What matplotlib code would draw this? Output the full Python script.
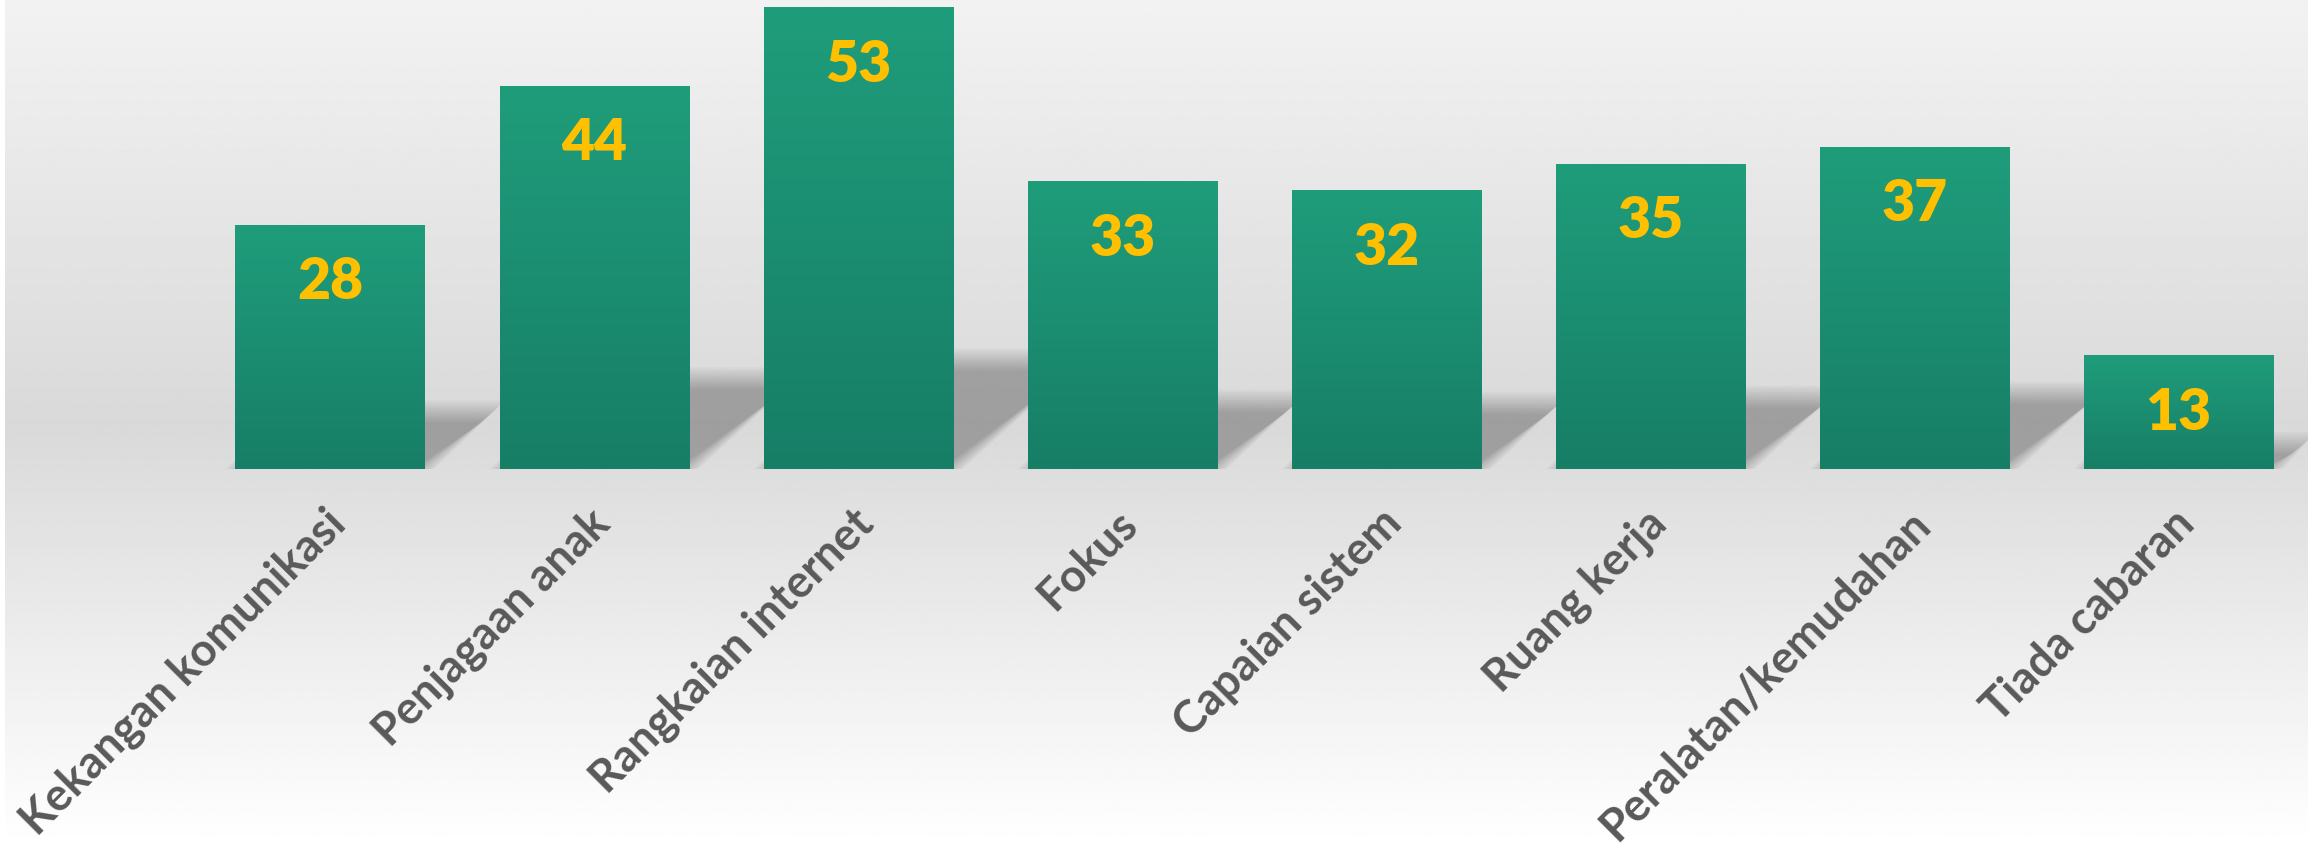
import numpy as np
import matplotlib
matplotlib.use('Agg')
import matplotlib.pyplot as plt
from matplotlib.patches import Polygon
from matplotlib.colors import LinearSegmentedColormap

categories = ["Kekangan komunikasi", "Penjagaan anak", "Rangkaian internet", "Fokus",
              "Capaian sistem", "Ruang kerja", "Peralatan/kemudahan", "Tiada cabaran"]
values = [28, 44, 53, 33, 32, 35, 37, 13]

W, H = 2308, 847
fig = plt.figure(figsize=(W / 100, H / 100), dpi=100)
fig.patch.set_facecolor('white')

# background gradient
bg = fig.add_axes([0, 0, 1, 1], zorder=0)
bg.set_axis_off()
grad = np.interp(np.linspace(0, 1, 500), [0, 0.5, 1], [242, 217, 255]) / 255
img = np.repeat(grad[:, None], 2, axis=1)
bg.imshow(img, cmap='gray', vmin=0, vmax=1, extent=[5 / W, 1, 0, 1],
          aspect='auto', interpolation='bilinear')
bg.set_xlim(0, 1)
bg.set_ylim(0, 1)

ax = fig.add_axes([0, 378 / H, 1, 469 / H], zorder=1)
ax.patch.set_alpha(0)
ax.set_axis_off()
xlim = (-1.2495, 7.4896)
ylim = (0, 53.9)

bar_w = 0.716
cmap = LinearSegmentedColormap.from_list('g', ['#177E66', '#1F9D7B'])
px_per_x = W / (xlim[1] - xlim[0])
px_per_y = 469 / (ylim[1] - ylim[0])

for i, v in enumerate(values):
    xl, xr = i - bar_w / 2, i + bar_w / 2
    hs = 0.24 * v
    dx = 1.2 * hs * px_per_y / px_per_x
    # blurred shadow via layered polygons
    n = 12
    for k in range(n):
        e = (k - n / 2) * 2.0  # pixels
        ex = e / px_per_x
        ey = e / px_per_y
        poly = Polygon([(xl - ex, 0), (xr + ex, 0), (xr + dx + ex, hs + ey),
                        (xl + dx - ex, hs + ey)], closed=True,
                       facecolor='black', edgecolor='none', alpha=0.023, zorder=1)
        ax.add_patch(poly)
    grad_bar = np.linspace(1, 0, 256)[:, None]
    ax.imshow(grad_bar, cmap=cmap, vmin=0, vmax=1, extent=[xl, xr, 0, v],
              aspect='auto', interpolation='bilinear', zorder=2)
    ax.annotate(str(v), xy=(i, v), xytext=(0, -74 * 0.72), textcoords='offset points',
                ha='center', va='baseline', fontsize=41, color='#FFC000',
                fontweight='heavy', family='Lato', zorder=3)
    ax.annotate(categories[i], xy=(i, 0), xytext=(-6 * 0.72, -33 * 0.72),
                textcoords='offset points', rotation=45, rotation_mode='anchor',
                ha='right', va='top', fontsize=32.5, color='#595959',
                fontweight='bold', family='Lato', annotation_clip=False, zorder=3)

ax.set_xlim(*xlim)
ax.set_ylim(*ylim)

fig.savefig('out.png', dpi=100)
